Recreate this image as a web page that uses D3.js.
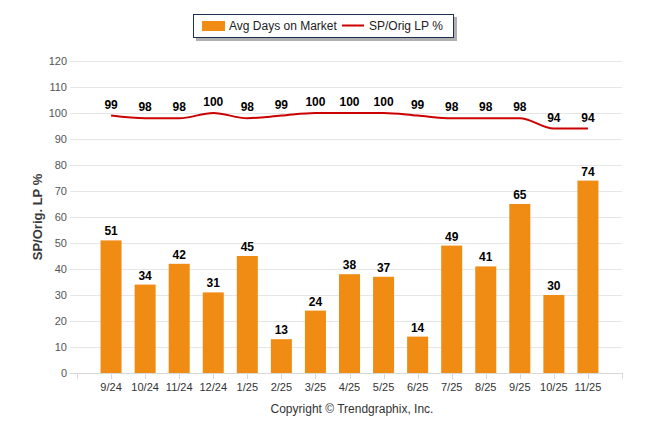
<!DOCTYPE html>
<html>
<head>
<style>
    body { margin: 0; background: #fff; }
    text { font-family: "Liberation Sans", Arial, sans-serif; }
</style>
</head>
<body>
<svg id="chart" width="646" height="434"></svg>
<script src="https://d3js.org/d3.v7.min.js"></script>
<script>
    const months = ["9/24", "10/24", "11/24", "12/24", "1/25", "2/25", "3/25", "4/25", "5/25", "6/25", "7/25", "8/25", "9/25", "10/25", "11/25"];
    const avgDays = [51, 34, 42, 31, 45, 13, 24, 38, 37, 14, 49, 41, 65, 30, 74];
    const spOrig = [99, 98, 98, 100, 98, 99, 100, 100, 100, 99, 98, 98, 98, 94, 94];
    const yTicks = [0, 10, 20, 30, 40, 50, 60, 70, 80, 90, 100, 110, 120];

    const svg = d3.select("#chart");
    const plotLeft = 77, plotRight = 622, plotTop = 61, plotBottom = 373;

    const x = d3.scalePoint().domain(months).range([plotLeft, plotRight]).padding(1);
    const y = d3.scaleLinear().domain([0, 120]).range([plotBottom, plotTop]);
    const barW = 21;

    // grid
    svg.append("g")
        .selectAll("line")
        .data(yTicks)
        .enter()
        .append("line")
            .attr("x1", 70)
            .attr("x2", plotRight)
            .attr("y1", (d) => Math.round(y(d)) + 0.5)
            .attr("y2", (d) => Math.round(y(d)) + 0.5)
            .attr("stroke", (d) => d === 0 ? "#d8d8d8" : "#e6e6e6");

    svg.append("g")
        .selectAll("text")
        .data(yTicks)
        .enter()
        .append("text")
            .attr("x", 67)
            .attr("y", (d) => y(d) + 4)
            .attr("text-anchor", "end")
            .attr("font-size", 11)
            .attr("fill", "#555")
            .text((d) => d);

    // x axis ticks
    const tickPos = [plotLeft].concat(months.map((m) => x(m)), [plotRight]);
    svg.append("g")
        .selectAll("line")
        .data(tickPos)
        .enter()
        .append("line")
            .attr("x1", (d) => Math.round(d) + 0.5)
            .attr("x2", (d) => Math.round(d) + 0.5)
            .attr("y1", plotBottom)
            .attr("y2", plotBottom + 6)
            .attr("stroke", "#d8d8d8");

    svg.append("g")
        .selectAll("text")
        .data(months)
        .enter()
        .append("text")
            .attr("x", (d) => x(d))
            .attr("y", plotBottom + 18)
            .attr("text-anchor", "middle")
            .attr("font-size", 11)
            .attr("fill", "#333")
            .text((d) => d);

    // bars
    svg.append("g")
        .selectAll("rect")
        .data(avgDays)
        .enter()
        .append("rect")
            .attr("x", (d, i) => x(months[i]) - barW / 2)
            .attr("y", (d) => y(d))
            .attr("width", barW)
            .attr("height", (d) => plotBottom - y(d))
            .attr("fill", "#f08c14");

    svg.append("g")
        .selectAll("text")
        .data(avgDays)
        .enter()
        .append("text")
            .attr("x", (d, i) => x(months[i]))
            .attr("y", (d) => y(d) - 5)
            .attr("text-anchor", "middle")
            .attr("font-size", 12)
            .attr("font-weight", "bold")
            .attr("fill", "#000")
            .text((d) => d);

    // line
    const line = d3.line()
        .x((d, i) => x(months[i]))
        .y((d) => y(d))
        .curve(d3.curveMonotoneX);
    svg.append("path")
        .datum(spOrig)
        .attr("d", line)
        .attr("fill", "none")
        .attr("stroke", "#cc0000")
        .attr("stroke-width", 2);

    svg.append("g")
        .selectAll("text")
        .data(spOrig)
        .enter()
        .append("text")
            .attr("x", (d, i) => x(months[i]))
            .attr("y", (d) => y(d) - 7)
            .attr("text-anchor", "middle")
            .attr("font-size", 12)
            .attr("font-weight", "bold")
            .attr("fill", "#000")
            .text((d) => d);

    // y axis title
    svg.append("text")
        .attr("transform", `translate(42, ${(plotTop + plotBottom) / 2}) rotate(-90)`)
        .attr("text-anchor", "middle")
        .attr("font-size", 13)
        .attr("font-weight", "bold")
        .attr("fill", "#3a3a3a")
        .text("SP/Orig. LP %");

    // copyright
    svg.append("text")
        .attr("x", 352)
        .attr("y", 413)
        .attr("text-anchor", "middle")
        .attr("font-size", 12)
        .attr("fill", "#333")
        .text("Copyright \u00A9 Trendgraphix, Inc.");

    // legend
    const legend = svg.append("g");
    legend.append("rect")
        .attr("x", 196).attr("y", 17).attr("width", 261).attr("height", 24)
        .attr("fill", "#b0b0b0");
    legend.append("rect")
        .attr("x", 193.5).attr("y", 14.5).attr("width", 260).attr("height", 23)
        .attr("fill", "#fff").attr("stroke", "#1f2f4f").attr("stroke-width", 1);
    legend.append("rect")
        .attr("x", 202).attr("y", 21).attr("width", 23).attr("height", 10)
        .attr("fill", "#f08c14");
    legend.append("text")
        .attr("x", 229).attr("y", 30).attr("font-size", 12).attr("fill", "#222")
        .text("Avg Days on Market");
    legend.append("line")
        .attr("x1", 342).attr("x2", 364).attr("y1", 25.5).attr("y2", 25.5)
        .attr("stroke", "#cc0000").attr("stroke-width", 2);
    legend.append("text")
        .attr("x", 369).attr("y", 30).attr("font-size", 12).attr("fill", "#222")
        .text("SP/Orig LP %");
</script>
</body>
</html>
